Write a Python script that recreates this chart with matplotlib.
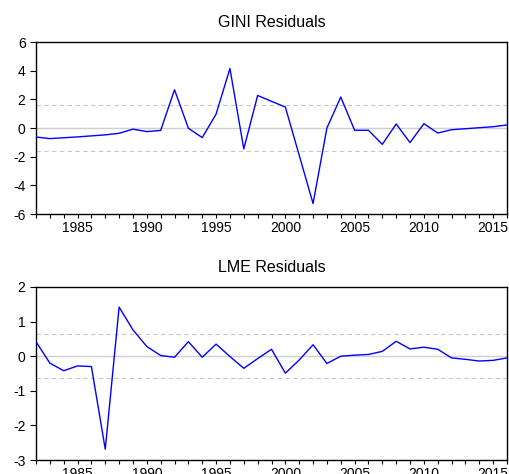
import matplotlib
matplotlib.use("Agg")
import matplotlib.pyplot as plt
import numpy as np
from matplotlib.ticker import MultipleLocator

years = list(range(1982, 2017))

gini = [-0.63, -0.74, -0.68, -0.62, -0.55, -0.48, -0.37, -0.08, -0.25, -0.17,
        2.67, -0.02, -0.67, 0.97, 4.15, -1.46, 2.27, 1.86, 1.46, -1.9,
        -5.27, 0.0, 2.16, -0.16, -0.16, -1.14, 0.28, -1.02, 0.30, -0.35,
        -0.12, -0.05, 0.02, 0.09, 0.21]

lme = [0.42, -0.20, -0.42, -0.28, -0.30, -2.69, 1.42, 0.76, 0.28, 0.02,
       -0.03, 0.42, -0.03, 0.35, -0.01, -0.35, -0.07, 0.20, -0.49, -0.11,
       0.33, -0.21, 0.0, 0.03, 0.05, 0.14, 0.43, 0.21, 0.26, 0.20,
       -0.05, -0.09, -0.14, -0.12, -0.05]

gini_band = 1.63
lme_band = 0.63

W, H = 509, 474
plt.rcParams["font.family"] = ["Liberation Sans", "DejaVu Sans"]
plt.rcParams["axes.unicode_minus"] = False

fig = plt.figure(figsize=(W / 100, H / 100), dpi=100)
fig.patch.set_facecolor("white")


def panel(rect, vals, band, ylim, yticks, title):
    l, t, r, b = rect
    ax = fig.add_axes([l / W, 1 - b / H, (r - l) / W, (b - t) / H])
    ax.axhline(0, color="#cfcfcf", lw=1.0, zorder=1)
    for v in (band, -band):
        ax.axhline(v, color="#c8c8c8", lw=0.8, ls=(0, (4, 3)), zorder=1)
    ax.plot(years, vals, color="#0000ff", lw=1.0, zorder=3)
    ax.set_xlim(1982, 2016)
    ax.set_ylim(*ylim)
    ax.set_yticks(yticks)
    ax.xaxis.set_major_locator(MultipleLocator(5))
    ax.xaxis.set_minor_locator(MultipleLocator(1))
    ax.tick_params(axis="both", which="both", direction="out", length=3,
                   width=0.8, labelsize=10, pad=2, color="black")
    ax.tick_params(axis="y", length=4.5, pad=3)
    for s in ax.spines.values():
        s.set_linewidth(1.0)
    ax.set_title(title, fontsize=11.5, pad=11)
    return ax


panel((36, 42, 507, 214), gini, gini_band, (-6, 6), [-6, -4, -2, 0, 2, 4, 6], "GINI Residuals")
panel((36, 287, 507, 460), lme, lme_band, (-3, 2), [-3, -2, -1, 0, 1, 2], "LME Residuals")

fig.savefig("out.png", dpi=100)
